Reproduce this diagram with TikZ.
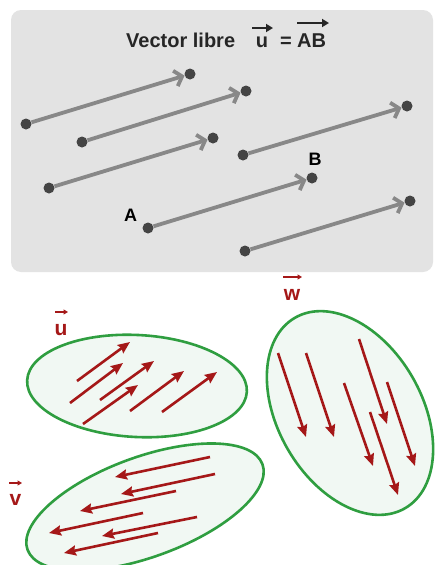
\documentclass[tikz,border=0pt]{standalone}
\usepackage{fontspec}
\setmainfont{Liberation Sans}
\usetikzlibrary{arrows.meta}
\definecolor{panel}{HTML}{E3E3E3}
\definecolor{vgray}{HTML}{888888}
\definecolor{dotgray}{HTML}{444444}
\definecolor{vred}{HTML}{A51818}
\definecolor{egreen}{HTML}{2F9E40}
\definecolor{efill}{HTML}{F1F8F3}
\begin{document}
\begin{tikzpicture}[x=1pt,y=-1pt,
  dot/.style={circle,fill=dotgray,inner sep=0pt,minimum size=11pt},
  gvec/.style={draw=vgray,line width=3.8pt,-{Straight Barb[length=7pt,width=16pt,line width=3.8pt]}},
  rvec/.style={draw=vred,line width=2.6pt,-{Stealth[length=12pt,width=10pt,inset=1.5pt]}},
  ell/.style={draw=egreen,line width=2.6pt,fill=efill},
  ptlabel/.style={font=\fontsize{18}{18}\selectfont\bfseries,text=black,inner sep=0pt,anchor=base},
  ttl/.style={font=\fontsize{20}{20}\selectfont\bfseries,text=black!85,inner sep=0pt,anchor=base},
  rlabel/.style={font=\fontsize{21}{21}\selectfont\bfseries,text=vred,inner sep=0pt,anchor=base},
  tarrow/.style={draw=black!85,line width=2.2pt,-{Triangle[length=7pt,width=8pt]}},
  larrow/.style={draw=vred,line width=1.4pt,-{Triangle[length=4.5pt,width=5pt]}}]
\useasboundingbox (0,0) rectangle (435,565);
\fill[white] (0,0) rectangle (435,565);
% panel
\fill[panel,rounded corners=10pt] (11,10) rectangle (433,272);
% title
\node[ttl,anchor=base west] (t1) at (126,47) {Vector libre};
\node[ttl] (tu) at (262,47) {u};
\node[ttl] (teq) at (286,47) {=};
\node[ttl,anchor=base west] (tab) at (297,47) {AB};
\coordinate (tua) at (252,28); \coordinate (tub) at (273,28);
\coordinate (taba) at (297,23); \coordinate (tabb) at (329,23);
\draw[tarrow] (tua) -- (tub);
\draw[tarrow] (taba) -- (tabb);
% gray vectors
\foreach \i/\ax/\ay/\bx/\by in {1/26/124/190/74, 2/82/142/246/91, 3/49/188/213/138, 4/243/155/407/106, 5/148/228/312/178, 6/245/251/410/201}{
  \node[dot] (s\i) at (\ax,\ay) {};
  \node[dot] (e\i) at (\bx,\by) {};
  \draw[gvec] (s\i) -- (e\i);
}
\node[ptlabel] (A) at (130.5,221) {A};
\node[ptlabel] (B) at (315,165) {B};
% ellipses
\draw[ell,rotate around={-3:(137,386)}] (137,386) ellipse [x radius=110,y radius=51];
\draw[ell,rotate around={20:(145,507)}] (145,507) ellipse [x radius=125,y radius=50];
\draw[ell,rotate around={-60:(350,413)}] (350,413) ellipse [x radius=110,y radius=72];
% u vectors
\foreach \i/\ax/\ay/\bx/\by in {1/77/381/130/342, 2/70/403/123/363, 3/100/400/154/361, 4/83/424/138/385, 5/130/411/184/371, 6/162/412/217/372}{
  \coordinate (ua\i) at (\ax,\ay);
  \coordinate (ub\i) at (\bx,\by);
  \draw[rvec] (ua\i) -- (ub\i);
}
% w vectors
\foreach \i/\ax/\ay/\bx/\by in {1/278/353/306/437, 2/306/353/334/437, 3/359/339/387/424, 4/344/383/373/466, 5/387/382/415/466, 6/370/412/398/495}{
  \coordinate (wa\i) at (\ax,\ay);
  \coordinate (wb\i) at (\bx,\by);
  \draw[rvec] (wa\i) -- (wb\i);
}
% v vectors
\foreach \i/\ax/\ay/\bx/\by in {1/210/457/115/477, 2/215/474/121/494, 3/176/491/80/511, 4/143/513/49/533, 5/197/517/102/536, 6/158/533/64/553}{
  \coordinate (va\i) at (\ax,\ay);
  \coordinate (vb\i) at (\bx,\by);
  \draw[rvec] (va\i) -- (vb\i);
}
% red labels
\node[rlabel] (lu) at (61,335) {u};
\node[rlabel] (lv) at (15.5,505) {v};
\node[rlabel] (lw) at (292,300) {w};
\coordinate (lua) at (55,312); \coordinate (lub) at (68,312);
\coordinate (lva) at (9,483); \coordinate (lvb) at (22,483);
\coordinate (lwa) at (283,277); \coordinate (lwb) at (302,277);
\draw[larrow] (lua) -- (lub);
\draw[larrow] (lva) -- (lvb);
\draw[larrow] (lwa) -- (lwb);
\end{tikzpicture}
\end{document}
